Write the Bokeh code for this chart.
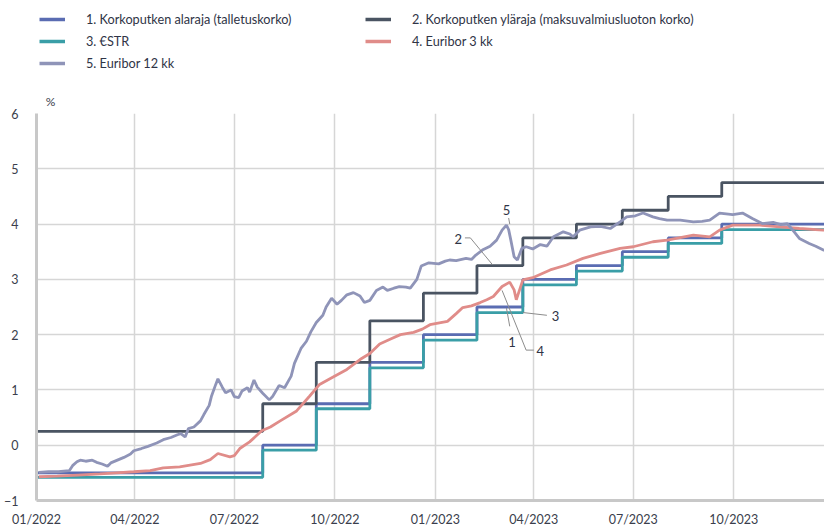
import datetime as dt
import pandas as pd
from bokeh.plotting import figure
from bokeh.layouts import column
from bokeh.models import (FixedTicker, DatetimeTickFormatter, Legend, LegendItem,
                          Label, Range1d)
from bokeh.embed import file_html
from bokeh.resources import INLINE

# ---------------- data ----------------
rate_dates = ["2022-01-01", "2022-07-27", "2022-09-14", "2022-11-02", "2022-12-21",
              "2023-02-08", "2023-03-22", "2023-05-10", "2023-06-21", "2023-08-02",
              "2023-09-20", "2023-12-31"]
deposit_rate = [-0.50, 0.00, 0.75, 1.50, 2.00, 2.50, 3.00, 3.25, 3.50, 3.75, 4.00, 4.00]
marginal_rate = [0.25, 0.75, 1.50, 2.25, 2.75, 3.25, 3.75, 4.00, 4.25, 4.50, 4.75, 4.75]
estr_rate = [-0.58, -0.09, 0.66, 1.40, 1.90, 2.40, 2.90, 3.15, 3.40, 3.65, 3.90, 3.90]

e3_dates = ["2022-01-03", "2022-01-20", "2022-02-08", "2022-02-28", "2022-03-15", "2022-03-31",
            "2022-04-15", "2022-04-27", "2022-05-12", "2022-05-31", "2022-06-09", "2022-06-16",
            "2022-06-27", "2022-07-01", "2022-07-06", "2022-07-15", "2022-07-26", "2022-08-03",
            "2022-08-12", "2022-08-27", "2022-09-08", "2022-09-17", "2022-09-29", "2022-10-12",
            "2022-10-24", "2022-11-02", "2022-11-11", "2022-11-21", "2022-11-30", "2022-12-12",
            "2022-12-20", "2022-12-27", "2023-01-12", "2023-01-20", "2023-01-26", "2023-02-03",
            "2023-02-11", "2023-02-17", "2023-02-23", "2023-03-03", "2023-03-10", "2023-03-14",
            "2023-03-16", "2023-03-19", "2023-03-22", "2023-03-31", "2023-04-16", "2023-05-01",
            "2023-05-16", "2023-06-01", "2023-06-19", "2023-07-01", "2023-07-19", "2023-08-01",
            "2023-08-25", "2023-09-09", "2023-09-18", "2023-09-30", "2023-10-25", "2023-11-12",
            "2023-11-30", "2023-12-22", "2023-12-29"]
e3_vals = [-0.57, -0.56, -0.54, -0.52, -0.50, -0.48,
           -0.46, -0.41, -0.39, -0.33, -0.26, -0.15,
           -0.21, -0.19, -0.06, 0.06, 0.26, 0.33,
           0.44, 0.62, 0.89, 1.10, 1.23, 1.37,
           1.55, 1.66, 1.83, 1.92, 2.00, 2.04,
           2.10, 2.18, 2.24, 2.38, 2.49, 2.52,
           2.58, 2.63, 2.69, 2.87, 2.95, 2.81,
           2.63, 2.81, 2.99, 3.03, 3.17, 3.26,
           3.38, 3.47, 3.56, 3.59, 3.68, 3.71,
           3.80, 3.77, 3.89, 3.98, 3.98, 3.95,
           3.92, 3.89, 3.90]

e12_dates = ["2022-01-03", "2022-01-12", "2022-01-21", "2022-01-31", "2022-02-03", "2022-02-07",
             "2022-02-10", "2022-02-15", "2022-02-21", "2022-02-25", "2022-03-02", "2022-03-07",
             "2022-03-10", "2022-03-16", "2022-03-22", "2022-03-28", "2022-03-31", "2022-04-07",
             "2022-04-13", "2022-04-21", "2022-04-27", "2022-05-04", "2022-05-10", "2022-05-13",
             "2022-05-17", "2022-05-20", "2022-05-25", "2022-05-31", "2022-06-03", "2022-06-08",
             "2022-06-10", "2022-06-14", "2022-06-16", "2022-06-20", "2022-06-23", "2022-06-28",
             "2022-07-01", "2022-07-05", "2022-07-08", "2022-07-13", "2022-07-15", "2022-07-19",
             "2022-07-22", "2022-07-27", "2022-08-02", "2022-08-05", "2022-08-11", "2022-08-16",
             "2022-08-22", "2022-08-25", "2022-08-31", "2022-09-05", "2022-09-09", "2022-09-14",
             "2022-09-20", "2022-09-23", "2022-09-28", "2022-10-03", "2022-10-07", "2022-10-12",
             "2022-10-18", "2022-10-24", "2022-10-28", "2022-11-02", "2022-11-08", "2022-11-14",
             "2022-11-18", "2022-11-24", "2022-11-29", "2022-12-05", "2022-12-09", "2022-12-15",
             "2022-12-19", "2022-12-26", "2023-01-04", "2023-01-10", "2023-01-14", "2023-01-20",
             "2023-01-29", "2023-02-03", "2023-02-07", "2023-02-13", "2023-02-20", "2023-02-26",
             "2023-03-03", "2023-03-07", "2023-03-09", "2023-03-11", "2023-03-14", "2023-03-17",
             "2023-03-21", "2023-03-25", "2023-03-31", "2023-04-07", "2023-04-13", "2023-04-19",
             "2023-04-28", "2023-05-04", "2023-05-07", "2023-05-13", "2023-05-23", "2023-06-01",
             "2023-06-10", "2023-06-19", "2023-06-25", "2023-07-03", "2023-07-10", "2023-07-19",
             "2023-07-25", "2023-08-01", "2023-08-13", "2023-08-25", "2023-09-02", "2023-09-09",
             "2023-09-18", "2023-09-30", "2023-10-09", "2023-10-18", "2023-10-27", "2023-11-06",
             "2023-11-13", "2023-11-19", "2023-11-24", "2023-11-30", "2023-12-09", "2023-12-15",
             "2023-12-22", "2023-12-29"]
e12_vals = [-0.49, -0.48, -0.48, -0.46, -0.37, -0.30,
            -0.27, -0.29, -0.27, -0.31, -0.34, -0.38,
            -0.32, -0.27, -0.22, -0.16, -0.10, -0.06,
            -0.02, 0.04, 0.10, 0.14, 0.19, 0.21,
            0.15, 0.30, 0.33, 0.44, 0.55, 0.72,
            0.88, 1.10, 1.20, 1.05, 0.95, 1.00,
            0.88, 0.86, 0.98, 1.04, 0.96, 1.18,
            1.05, 0.94, 0.82, 0.88, 1.08, 1.04,
            1.25, 1.48, 1.75, 1.88, 2.05, 2.22,
            2.35, 2.50, 2.66, 2.55, 2.62, 2.72,
            2.76, 2.70, 2.58, 2.62, 2.80, 2.86,
            2.80, 2.84, 2.87, 2.86, 2.84, 3.00,
            3.24, 3.30, 3.28, 3.33, 3.35, 3.34,
            3.38, 3.36, 3.44, 3.53, 3.60, 3.71,
            3.89, 3.98, 3.90, 3.71, 3.41, 3.35,
            3.56, 3.59, 3.55, 3.63, 3.60, 3.77,
            3.86, 3.82, 3.77, 3.89, 3.95, 3.96,
            3.92, 4.04, 4.13, 4.15, 4.20, 4.13,
            4.10, 4.07, 4.07, 4.04, 4.05, 4.07,
            4.20, 4.17, 4.20, 4.10, 4.01, 4.03,
            3.99, 4.01, 3.89, 3.74, 3.65, 3.60,
            3.53, 3.51]

series_names = ["1. Korkoputken alaraja (talletuskorko)",
                "2. Korkoputken yläraja (maksuvalmiusluoton korko)",
                "3. €STR", "4. Euribor 3 kk", "5. Euribor 12 kk"]
colors = ["#5a6cb2", "#4a5462", "#3a9ea7", "#e08c89", "#8f94b8"]

x_ticks = ["2022-01-01", "2022-04-01", "2022-07-01", "2022-10-01",
           "2023-01-01", "2023-04-01", "2023-07-01", "2023-10-01"]
y_ticks = [-1, 0, 1, 2, 3, 4, 5, 6]
unit_text = "%"

# callout labels: text, position, leader line points (date, value)
callouts = [
    ("5", "2023-03-07", 4.25, ["2023-03-09", "2023-03-10"], [4.11, 4.00]),
    ("2", "2023-01-22", 3.73, ["2023-01-28", "2023-02-02", "2023-02-22"], [3.75, 3.75, 3.27]),
    ("3", "2023-04-21", 2.34, ["2023-04-13", "2023-03-22"], [2.35, 2.40]),
    ("1", "2023-03-12", 1.87, ["2023-03-10", "2023-03-07"], [2.15, 2.48]),
    ("4", "2023-04-07", 1.71, ["2023-04-01", "2023-03-25", "2023-03-03"], [1.72, 1.72, 2.80]),
]

FONT = "Lato"
TXT = "#2f3446"
LW = 2.8

# ---------------- legend strip (top) ----------------
# the strip's frame is aligned with the chart frame (left edge at x=36)
leg = figure(width=824, height=108, x_range=Range1d(36, 824), y_range=Range1d(108, 0),
             x_axis_type=None, y_axis_type=None, output_backend="svg",
             toolbar_location=None, min_border=0)
leg.outline_line_color = None
leg.xgrid.visible = False
leg.ygrid.visible = False
dummies = [leg.line(x=[-100, -90], y=[-100, -100], line_color=c, line_width=3.5)
           for c in colors]
order = [0, 2, 4, 1, 3]  # column-major fill: col 1 -> 1,3,5 ; col 2 -> 2,4
legend = Legend(items=[LegendItem(label=series_names[i], renderers=[dummies[i]]) for i in order],
                location=(3, 37), ncols=2, padding=0, margin=0, spacing=6,
                glyph_width=26, glyph_height=16, label_height=16, label_width=273,
                label_standoff=21, label_text_font=FONT, label_text_font_size="12.7px",
                label_text_color=TXT, border_line_color=None,
                background_fill_alpha=0)
leg.add_layout(legend)
leg.add_layout(Label(x=50, y=101, text=unit_text, text_font=FONT, text_font_size="12px",
                     text_color="#3a3e4c", text_align="center", text_baseline="middle"))

# ---------------- main chart ----------------
x0 = dt.datetime(2022, 1, 1)
x1 = x0 + dt.timedelta(days=721)

p = figure(width=824, height=421, x_axis_type="datetime",
           x_range=Range1d(x0, x1), y_range=Range1d(-1, 6),
           output_backend="svg", toolbar_location=None,
           min_border_left=36, min_border_right=0, min_border_top=5,
           min_border_bottom=27)
p.outline_line_color = None

rd = pd.to_datetime(rate_dates)
p.step(rd, deposit_rate, mode="after", line_color=colors[0], line_width=LW)
p.step(rd, marginal_rate, mode="after", line_color=colors[1], line_width=LW)
p.step(rd, estr_rate, mode="after", line_color=colors[2], line_width=LW)
p.line(pd.to_datetime(e3_dates), e3_vals, line_color=colors[3], line_width=LW)
p.line(pd.to_datetime(e12_dates), e12_vals, line_color=colors[4], line_width=LW)

xt = [pd.Timestamp(d).value // 10**6 for d in x_ticks]
p.xaxis.ticker = FixedTicker(ticks=xt)
fmt = "%m/%Y"
p.xaxis.formatter = DatetimeTickFormatter(
    microseconds=fmt, milliseconds=fmt, seconds=fmt, minsec=fmt, minutes=fmt,
    hourmin=fmt, hours=fmt, days=fmt, months=fmt, years=fmt)
p.yaxis.ticker = FixedTicker(ticks=y_ticks)

for ax in (p.xaxis[0], p.yaxis[0]):
    ax.axis_line_color = "#c8c8c8"
    ax.axis_line_width = 3
    ax.major_tick_line_color = None
    ax.minor_tick_line_color = None
    ax.major_tick_out = 0
    ax.major_tick_in = 0
    ax.minor_tick_out = 0
    ax.major_label_text_font = FONT
    ax.major_label_text_font_size = "12.5px"
    ax.major_label_text_color = "#3a3e4c"
p.xaxis.major_label_standoff = 11
p.yaxis.major_label_standoff = 18

p.xgrid.grid_line_color = "#d6d6d6"
p.xgrid.grid_line_width = 1.5
p.ygrid.grid_line_color = "#d6d6d6"
p.ygrid.grid_line_width = 1.5

for txt, lx, ly, lxs, lys in callouts:
    p.line(pd.to_datetime(lxs), lys, line_color="#8c8c8c", line_width=1)
    p.add_layout(Label(x=pd.Timestamp(lx), y=ly, text=txt, text_font=FONT,
                       text_font_size="13px", text_color=TXT,
                       text_align="center", text_baseline="middle"))

layout = column(leg, p, spacing=0)
open("out.html", "w").write(file_html(layout, INLINE))
